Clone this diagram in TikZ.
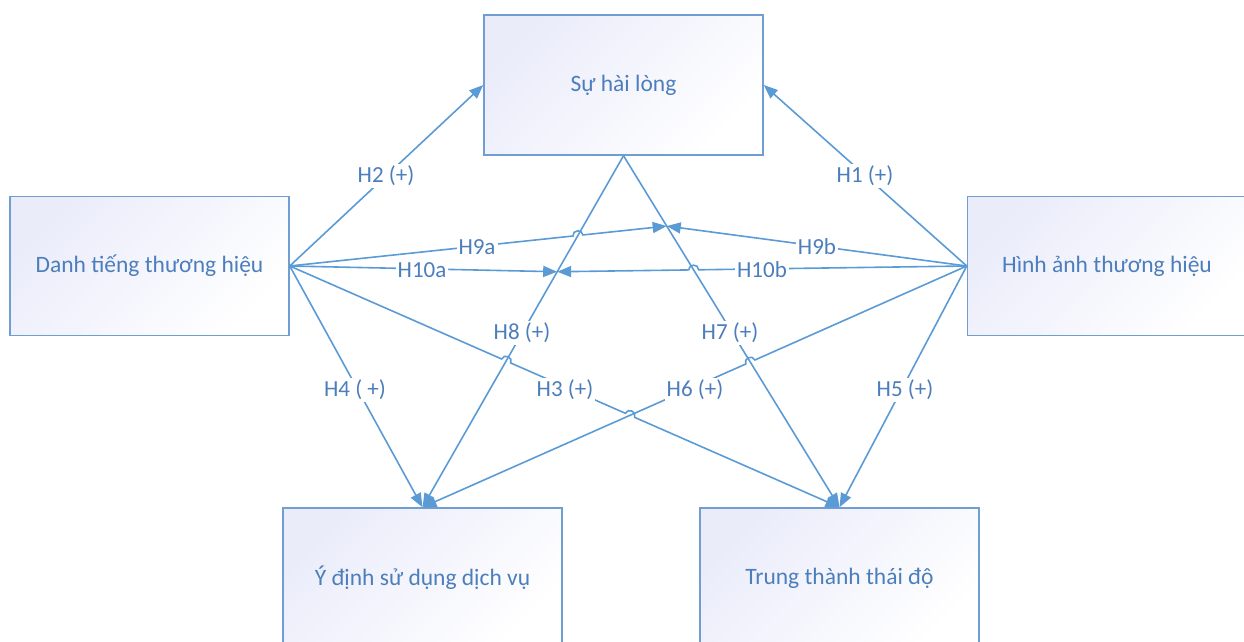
\documentclass[tikz,border=0pt]{standalone}
\usepackage{fontspec}
\setmainfont{Carlito}
\usetikzlibrary{arrows.meta,calc}
\definecolor{ln}{RGB}{91,155,213}
\definecolor{tx}{RGB}{76,126,188}
\definecolor{bd}{RGB}{112,157,210}
\definecolor{lav}{RGB}{234,236,250}
\begin{document}
\begin{tikzpicture}[x=1pt,y=-1pt,
  box/.style={draw=bd, line width=1.5pt, minimum width=279pt, minimum height=139pt, inner sep=0pt,
    top color=lav, bottom color=white, shading angle=45, text=tx, font=\fontsize{23.5}{28}\selectfont},
  conn/.style={draw=ln, line width=1.6pt, -{Triangle[length=14pt,width=11pt]}},
  hop/.style={bend left=90, looseness=1.6},
  hopr/.style={bend right=90, looseness=1.6},
  lbl/.style={fill=white, text=tx, inner sep=2pt, font=\fontsize{23}{27}\selectfont}]
\useasboundingbox (0,0) rectangle (1244,642);
\clip (0,0) rectangle (1244,642);
\def\hr{5pt}
% boxes
\node[box, minimum height=140pt] (T) at (623.5,85) {Sự hài lòng};
\node[box] (L) at (149.5,266) {Danh tiếng thương hiệu};
\node[box] (R) at (1107,266) {Hình ảnh thương hiệu};
\node[box, minimum height=140pt] (BLb) at (422.5,578) {Ý định sử dụng dịch vụ};
\node[box, minimum height=140pt] (BRb) at (839.5,578) {Trung thành thái độ};
% junctions
\coordinate (JL) at (L.east);
\coordinate (JR) at (R.west);
\coordinate (JT) at (T.south);
\coordinate (BL) at (BLb.north);
\coordinate (BR) at (BRb.north);
\coordinate (M9) at ($(JT)!0.2!(BR)$);
\coordinate (M10) at ($(JT)!0.33!(BL)$);
\coordinate (X1) at (intersection of JL--M9 and JT--BL);
\coordinate (X2) at (intersection of JR--M10 and JT--BR);
\coordinate (X3) at (intersection of JL--BR and JT--BL);
\coordinate (X4) at (intersection of JR--BL and JT--BR);
\coordinate (X5) at (intersection of JL--BR and JR--BL);
% connectors
\draw[conn] (JL) -- (T.west);
\draw[conn] (JR) -- (T.east);
\draw[conn] (JT) -- (BL);
\draw[conn] (JT) -- (BR);
\draw[conn] (JL) -- ($(X1)!\hr!(JL)$) to[hop] ($(X1)!\hr!(M9)$) -- (M9);
\draw[conn] (JR) -- (M9);
\draw[conn] (JL) -- (M10);
\draw[conn] (JR) -- ($(X2)!\hr!(JR)$) to[hopr] ($(X2)!\hr!(M10)$) -- (M10);
\draw[conn] (JL) -- (BL);
\draw[conn] (JL) -- ($(X3)!\hr!(JL)$) to[hop] ($(X3)!\hr!(BR)$) -- ($(X5)!\hr!(JL)$) to[hop] ($(X5)!\hr!(BR)$) -- (BR);
\draw[conn] (JR) -- (BR);
\draw[conn] (JR) -- ($(X4)!\hr!(JR)$) to[hopr] ($(X4)!\hr!(BL)$) -- (BL);
% labels
\node[lbl] (l2) at (386,176) {H2 (+)};
\node[lbl] (l1) at (865,176) {H1 (+)};
\node[lbl] (l9a) at (477,247) {H9a};
\node[lbl] (l9b) at (817,247) {H9b};
\node[lbl] (l10a) at (422,270) {H10a};
\node[lbl] (l10b) at (762,270) {H10b};
\node[lbl] (l8) at (522,333) {H8 (+)};
\node[lbl] (l7) at (730,333) {H7 (+)};
\node[lbl] (l4) at (355,390) {H4 ( +)};
\node[lbl] (l3) at (565,390) {H3 (+)};
\node[lbl] (l6) at (695,390) {H6 (+)};
\node[lbl] (l5) at (905,390) {H5 (+)};
\end{tikzpicture}
\end{document}
